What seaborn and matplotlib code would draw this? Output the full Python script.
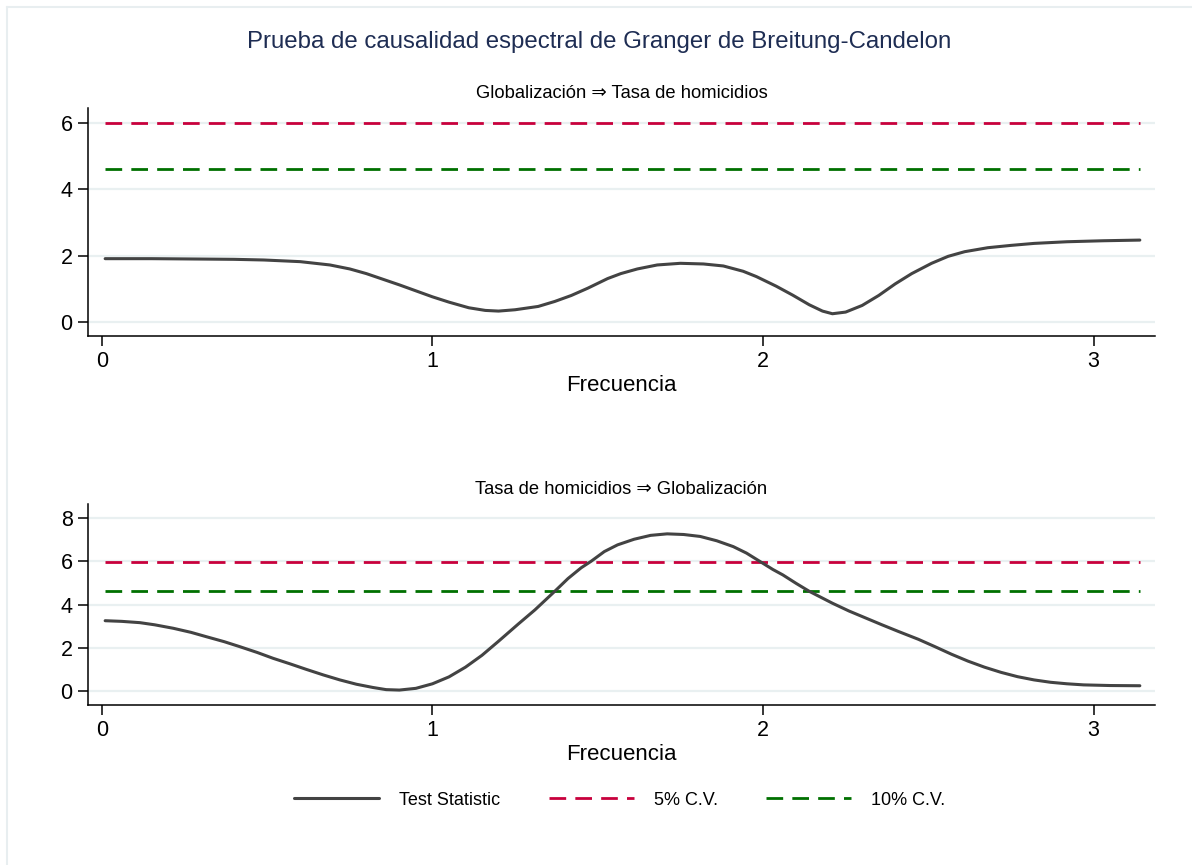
import matplotlib
matplotlib.use('Agg')
import matplotlib.pyplot as plt
import pandas as pd
import seaborn as sns

# frecuencias y estadistico
freq_top = [0.01, 0.15, 0.28, 0.40, 0.49, 0.60, 0.69, 0.75, 0.80, 0.85, 0.90, 0.95, 1.00, 1.05,
            1.11, 1.16, 1.20, 1.25, 1.32, 1.37, 1.42, 1.47, 1.53, 1.57, 1.62, 1.68, 1.75, 1.82,
            1.88, 1.94, 1.98, 2.04, 2.09, 2.14, 2.18, 2.21, 2.25, 2.30, 2.35, 2.40, 2.45, 2.51,
            2.56, 2.61, 2.68, 2.75, 2.82, 2.92, 3.03, 3.14]
stat_top = [1.91, 1.91, 1.90, 1.89, 1.87, 1.82, 1.72, 1.60, 1.46, 1.29, 1.12, 0.94, 0.76, 0.60,
            0.43, 0.35, 0.33, 0.37, 0.47, 0.62, 0.80, 1.02, 1.31, 1.46, 1.60, 1.72, 1.77, 1.75,
            1.69, 1.53, 1.37, 1.08, 0.81, 0.52, 0.33, 0.25, 0.30, 0.50, 0.80, 1.15, 1.46, 1.77,
            1.98, 2.12, 2.24, 2.31, 2.37, 2.42, 2.45, 2.47]

freq_bot = [0.01, 0.06, 0.115, 0.16, 0.216, 0.27, 0.316, 0.37, 0.417, 0.47, 0.518, 0.57, 0.618,
            0.67, 0.72, 0.77, 0.82, 0.86, 0.90, 0.95, 1.00, 1.05, 1.10, 1.15, 1.20, 1.26, 1.31,
            1.37, 1.41, 1.45, 1.48, 1.52, 1.56, 1.61, 1.66, 1.71, 1.76, 1.81, 1.86, 1.91, 1.95,
            1.99, 2.03, 2.06, 2.10, 2.14, 2.21, 2.26, 2.31, 2.36, 2.41, 2.47, 2.52, 2.57, 2.62,
            2.67, 2.72, 2.77, 2.82, 2.87, 2.92, 2.97, 3.05, 3.14]
stat_bot = [3.25, 3.22, 3.16, 3.06, 2.90, 2.71, 2.51, 2.28, 2.05, 1.78, 1.51, 1.25, 1.00,
            0.74, 0.51, 0.31, 0.16, 0.06, 0.04, 0.12, 0.33, 0.65, 1.10, 1.65, 2.30, 3.10, 3.75,
            4.61, 5.20, 5.70, 6.00, 6.45, 6.76, 7.02, 7.20, 7.27, 7.24, 7.15, 6.95, 6.68, 6.38,
            6.00, 5.62, 5.37, 4.98, 4.61, 4.06, 3.70, 3.38, 3.06, 2.75, 2.39, 2.05, 1.70, 1.38,
            1.10, 0.86, 0.66, 0.51, 0.40, 0.33, 0.28, 0.25, 0.24]

cv5 = 5.99
cv10 = 4.61

titulo = "Prueba de causalidad espectral de Granger de Breitung-Candelon"
subtitulos = ["Globalización ⇒ Tasa de homicidios", "Tasa de homicidios ⇒ Globalización"]
etiquetas = ["Test Statistic", "5% C.V.", "10% C.V."]

sns.set_style('white')
plt.rcParams['font.family'] = ['Liberation Sans', 'DejaVu Sans']
plt.rcParams['text.color'] = 'black'
plt.rcParams['axes.labelcolor'] = 'black'
plt.rcParams['xtick.color'] = 'black'
plt.rcParams['ytick.color'] = 'black'

col_stat = '#434343'
col_5 = '#c8003c'
col_10 = '#007000'
col_grid = '#e9f0f1'

fig = plt.figure(figsize=(11.92, 8.65), dpi=100)
ax1 = fig.add_axes([0.0738, 0.6116, 0.8952, 0.2635])
ax2 = fig.add_axes([0.0738, 0.185, 0.8952, 0.2323])

paneles = [(ax1, freq_top, stat_top, [0, 2, 4, 6], (-0.42, 6.45)),
           (ax2, freq_bot, stat_bot, [0, 2, 4, 6, 8], (-0.65, 8.65))]

for i, (ax, fr, st, yt, ylim) in enumerate(paneles):
    df = pd.DataFrame({'Frecuencia': fr, 'stat': st})
    df['cv5'] = cv5
    df['cv10'] = cv10
    for yv in yt:
        ax.axhline(yv, color=col_grid, lw=1.6, zorder=0)
    sns.lineplot(data=df, x='Frecuencia', y='stat', ax=ax, color=col_stat, lw=2.2,
                 label=etiquetas[0] if i == 0 else None, zorder=3)
    sns.lineplot(data=df, x='Frecuencia', y='cv5', ax=ax, color=col_5, lw=2.0,
                 dashes=(6, 3.3), label=etiquetas[1] if i == 0 else None, zorder=2)
    sns.lineplot(data=df, x='Frecuencia', y='cv10', ax=ax, color=col_10, lw=2.0,
                 dashes=(6, 3.3), label=etiquetas[2] if i == 0 else None, zorder=2)
    ax.set_xlim(-0.042, 3.186)
    ax.set_ylim(*ylim)
    ax.set_xticks([0, 1, 2, 3])
    ax.set_yticks(yt)
    ax.set_ylabel('')
    ax.set_xlabel('Frecuencia', fontsize=16, labelpad=2)
    ax.tick_params(axis='both', labelsize=15.5, length=7, width=1.1, color='black',
                   labelcolor='black', direction='out', bottom=True, left=True, pad=4)
    for s in ['top', 'right']:
        ax.spines[s].set_visible(False)
    for s in ['left', 'bottom']:
        ax.spines[s].set_color('black')
        ax.spines[s].set_linewidth(1.1)
    ax.set_title(subtitulos[i], fontsize=13.2, pad=7, color='black')
    if ax.get_legend() is not None:
        ax.get_legend().remove()

fig.suptitle(titulo, x=0.503, y=0.952, va='center', fontsize=17.3, color='#1e2d53')

handles, labels = ax1.get_legend_handles_labels()
fig.legend(handles, labels, loc='center', bbox_to_anchor=(0.52, 0.075), ncol=3,
           frameon=False, fontsize=13, handlelength=4.7, handletextpad=1.1,
           columnspacing=2.7)

# marco claro arriba e izquierda
fig.add_artist(plt.Line2D([0.006, 0.006], [0.0, 0.992], color='#e8eef0', lw=1.5))
fig.add_artist(plt.Line2D([0.006, 1.0], [0.992, 0.992], color='#e8eef0', lw=1.5))

fig.savefig('out.png', dpi=100)
